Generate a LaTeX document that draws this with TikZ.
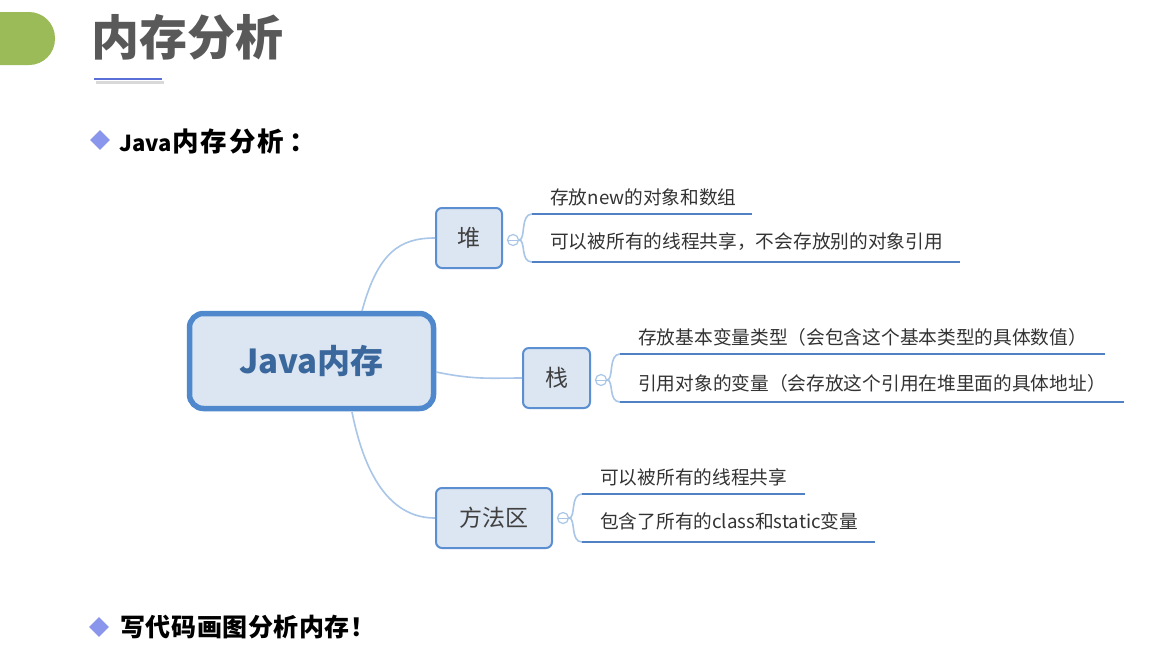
\documentclass[tikz,border=0pt]{standalone}
\usepackage{fontspec}
\usetikzlibrary{shapes.geometric}
\setmainfont{Noto Sans CJK SC}
\newcommand\cbox[2]{\makebox[#1][l]{#2}}
\begin{document}
\begin{tikzpicture}[x=1pt,y=-1pt,
  conn/.style={draw=linkblue,line width=1.6pt},
  ul/.style={draw=ulblue,line width=2.8pt},
  sub/.style={rectangle,rounded corners=6pt,draw=boxborder,line width=2pt,fill=boxfill,
    font=\fontsize{23}{26}\selectfont,text=textgray,inner sep=0pt},
  item/.style={anchor=west,inner sep=0pt,font=\fontsize{18.7}{22}\selectfont,text=black!80},
  knob/.style={circle,draw=linkblue,line width=1.2pt,fill=white,minimum size=11pt,inner sep=0pt},
  bullet/.style={diamond,fill=bulletblue,minimum size=20pt,inner sep=0pt},
  head/.style={anchor=west,inner sep=0pt,font=\fontsize{25}{28}\selectfont\bfseries}
]
\definecolor{linkblue}{HTML}{A9C6E8}
\definecolor{ulblue}{HTML}{4F81C4}
\definecolor{boxborder}{HTML}{5B8FD2}
\definecolor{rootborder}{HTML}{4F88CC}
\definecolor{boxfill}{HTML}{DCE6F2}
\definecolor{textgray}{HTML}{404040}
\definecolor{bulletblue}{HTML}{8A95EC}
\definecolor{tabgreen}{HTML}{9BBB59}
\definecolor{titlegray}{HTML}{595959}
\definecolor{lineblue}{HTML}{5A6FD8}
\definecolor{roottext}{HTML}{3A679C}
\useasboundingbox[fill=white] (0,0) rectangle (1171,649);

% header
\begin{scope}
\clip (0,0) rectangle (100,100);
\fill[tabgreen,rounded corners=26pt] (-40,12) rectangle (55,65);
\end{scope}
\node[anchor=west,inner sep=0pt,text=titlegray,font=\fontsize{48}{52}\selectfont\bfseries] (title) at (91,37) {内存分析};
\draw[black!15,line width=3pt] (96,82) -- (164,82);
\draw[lineblue,line width=2.6pt] (94,79) -- (162,79);

% bullets
\node[bullet] (b1) at (100,140) {};
\node[head] (h1) at (119,141) {{\fontsize{22}{26}\selectfont Java}\kern0.5pt{\fontsize{26.5}{28}\selectfont\cbox{28.5pt}{内}\cbox{28.5pt}{存}\cbox{28.5pt}{分}\cbox{32pt}{析}：}};
\node[bullet] (b2) at (99,627) {};
\node[head] (h2) at (120,627) {\cbox{25.6pt}{写}\cbox{25.6pt}{代}\cbox{25.6pt}{码}\cbox{25.6pt}{画}\cbox{25.6pt}{图}\cbox{25.6pt}{分}\cbox{25.6pt}{析}\cbox{25.6pt}{内}\cbox{26pt}{存}！};

% root
\node[rectangle,rounded corners=14pt,draw=rootborder,line width=5.5pt,fill=boxfill,
  minimum width=244pt,minimum height=95pt,text=roottext,
  font=\fontsize{33}{38}\selectfont\bfseries] (root) at (311.5,361) {Java内存};

% level-1 boxes
\node[sub,minimum width=66pt,minimum height=60pt] (heap) at (469,238) {堆};
\node[sub,minimum width=67pt,minimum height=60pt] (stack) at (556.5,378) {栈};
\node[sub,minimum width=116pt,minimum height=60pt] (method) at (494,518) {方法区};

% connectors
\coordinate (rt) at (362,311);
\coordinate (rr) at (436,372);
\coordinate (rb) at (352,412);
\draw[conn] (rt) .. controls (378,252) and (400,238) .. (heap.west);
\draw[conn] (rr) .. controls (475,380) and (490,378) .. (stack.west);
\draw[conn] (rb) .. controls (368,492) and (400,518) .. (method.west);

% knobs
\node[knob] (k1) at (513,240) {};
\node[knob] (k2) at (601,380) {};
\node[knob] (k3) at (563,518) {};
\draw[linkblue,line width=1pt] (k1.west) -- (k1.east);
\draw[linkblue,line width=1pt] (k2.west) -- (k2.east);
\draw[linkblue,line width=1pt] (k3.west) -- (k3.east);

% heap items
\coordinate (a1) at (532,214); \coordinate (a1e) at (752,214);
\coordinate (a2) at (532,262); \coordinate (a2e) at (960,262);
\draw[conn] (k1.east) .. controls (526,240) and (520,214) .. (a1);
\draw[conn] (k1.east) .. controls (526,240) and (520,262) .. (a2);
\draw[ul] (a1) -- (a1e);
\draw[ul] (a2) -- (a2e);
\node[item] (t1) at (550,197) {存放new的对象和数组};
\node[item] (t2) at (550,242) {可以被所有的线程共享，不会存放别的对象引用};

% stack items
\coordinate (s1) at (620,354); \coordinate (s1e) at (1105,354);
\coordinate (s2) at (620,402); \coordinate (s2e) at (1124,402);
\draw[conn] (k2.east) .. controls (614,380) and (608,354) .. (s1);
\draw[conn] (k2.east) .. controls (614,380) and (608,402) .. (s2);
\draw[ul] (s1) -- (s1e);
\draw[ul] (s2) -- (s2e);
\node[item] (t3) at (638,337) {存放基本变量类型（会包含这个基本类型的具体数值）};
\node[item] (t4) at (638,383) {引用对象的变量（会存放这个引用在堆里面的具体地址）};

% method area items
\coordinate (m1) at (582,494); \coordinate (m1e) at (805,494);
\coordinate (m2) at (582,542); \coordinate (m2e) at (875,542);
\draw[conn] (k3.east) .. controls (576,518) and (570,494) .. (m1);
\draw[conn] (k3.east) .. controls (576,518) and (570,542) .. (m2);
\draw[ul] (m1) -- (m1e);
\draw[ul] (m2) -- (m2e);
\node[item] (t5) at (600,477) {可以被所有的线程共享};
\node[item] (t6) at (600,521) {包含了所有的class和static变量};
\end{tikzpicture}
\end{document}
